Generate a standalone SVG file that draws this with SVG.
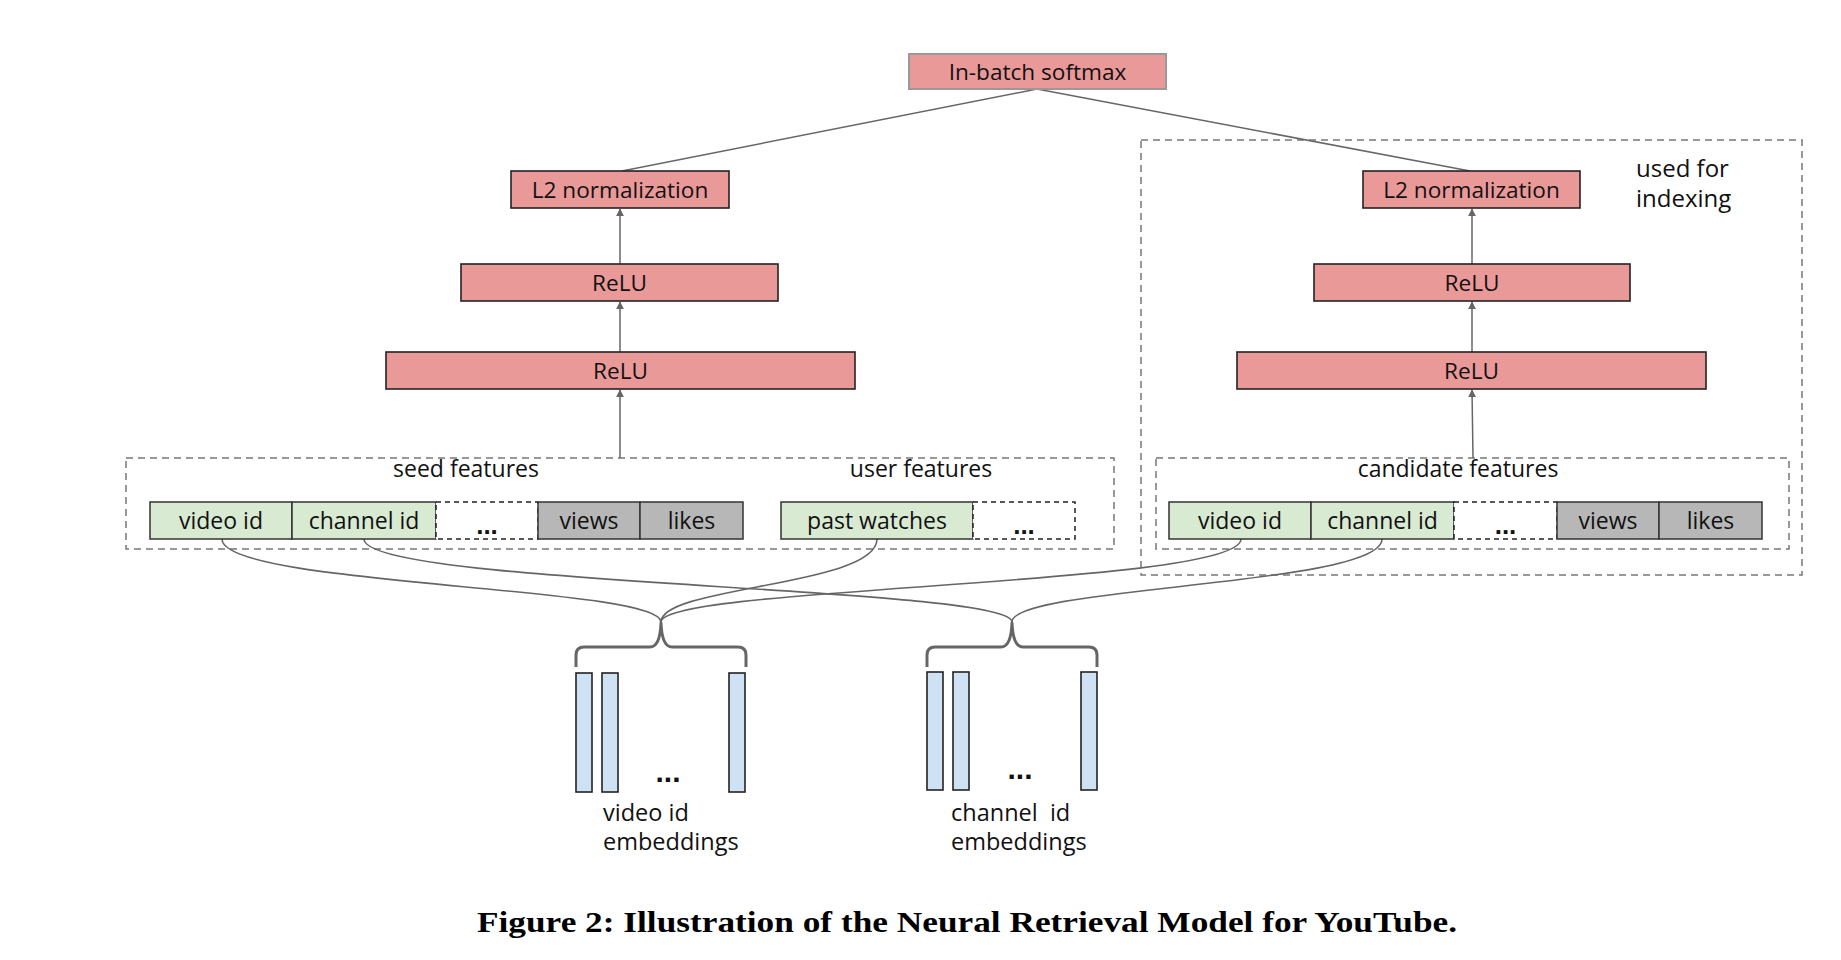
<svg xmlns="http://www.w3.org/2000/svg" width="1841" height="960" viewBox="0 0 1841 960">
<defs>
<marker id="arr" viewBox="0 0 10 10" refX="9" refY="5" markerWidth="8" markerHeight="8" markerUnits="userSpaceOnUse" orient="auto">
<path d="M0,0 L10,5 L0,10 z" fill="#666"/>
</marker>
<style>
.pink{fill:#ea9999;stroke:#222;stroke-width:1.6}
.top{fill:#ea9999;stroke:#999;stroke-width:2}
.green{fill:#d9ead3;stroke:#333;stroke-width:1.5}
.gray{fill:#b7b7b7;stroke:#333;stroke-width:1.5}
.dcell{fill:#fff;stroke:#222;stroke-width:1.5;stroke-dasharray:5,4}
.grp{fill:none;stroke:#777;stroke-width:1.5;stroke-dasharray:7,5}
.bar{fill:#cfe2f3;stroke:#222;stroke-width:1.6}
.t{font-family:"Open Sans","Noto Sans",sans-serif;font-size:22.6px;fill:#111}
.tc{text-anchor:middle}
.f{font-size:23px}
.e{font-size:23.5px}
.dots{font-family:"Liberation Sans",Arial,sans-serif;font-weight:bold;fill:#111;text-anchor:middle}
.ln{fill:none;stroke:#666;stroke-width:1.5}
.arrow{fill:none;stroke:#666;stroke-width:1.5;marker-end:url(#arr)}
.curve{fill:none;stroke:#666;stroke-width:1.6}
.brace{fill:none;stroke:#666;stroke-width:3;stroke-linejoin:round}
.cap{font-family:"Liberation Serif","Times New Roman",serif;font-weight:bold;font-size:30px;fill:#000;text-anchor:middle}
</style>
</defs>
<rect width="1841" height="960" fill="#fff"/>

<g id="groups">
<rect id="indexing-group" class="grp" x="1141" y="140" width="661" height="435"/>
<rect id="seed-user-group" class="grp" x="126" y="458" width="988" height="91"/>
<rect id="candidate-group" class="grp" x="1156" y="458" width="633" height="91"/>
<text class="t f tc" x="466" y="477">seed features</text>
<text class="t f tc" x="921" y="477">user features</text>
<text class="t f tc" x="1458" y="477">candidate features</text>
<text class="t" style="font-size:24px" x="1636" y="177">used for</text>
<text class="t" style="font-size:24px" x="1636" y="207">indexing</text>
</g>

<g id="connectors">
<line class="ln" x1="1037" y1="89" x2="622" y2="171"/>
<line class="ln" x1="1037" y1="89" x2="1470" y2="171"/>
<line class="arrow" x1="620" y1="264" x2="620" y2="209"/>
<line class="arrow" x1="620" y1="352" x2="620" y2="302"/>
<line class="arrow" x1="620" y1="458" x2="620" y2="390"/>
<line class="arrow" x1="1472" y1="264" x2="1472" y2="209"/>
<line class="arrow" x1="1472" y1="352" x2="1472" y2="302"/>
<line class="arrow" x1="1473" y1="458" x2="1472" y2="390"/>
<path class="curve" d="M222,539 C222,586 661,586 661,622"/>
<path class="curve" d="M877,539 C877,586 661,586 661,622"/>
<path class="curve" d="M1241,539 C1241,586 661,586 661,622"/>
<path class="curve" d="M364,539 C364,586 1012,586 1012,622"/>
<path class="curve" d="M1382,539 C1382,586 1012,586 1012,622"/>
</g>

<g id="in-batch-softmax">
<rect class="top" x="909" y="54" width="257" height="35"/>
<text class="t tc" x="1037.5" y="80">In-batch softmax</text>
</g>

<g id="left-l2">
<rect class="pink" x="511" y="171" width="218" height="37"/>
<text class="t tc" x="620" y="198">L2 normalization</text>
</g>
<g id="left-relu-2">
<rect class="pink" x="461" y="264" width="317" height="37"/>
<text class="t tc" x="619.5" y="291">ReLU</text>
</g>
<g id="left-relu-1">
<rect class="pink" x="386" y="352" width="469" height="37"/>
<text class="t tc" x="620.5" y="379">ReLU</text>
</g>

<g id="right-l2">
<rect class="pink" x="1363" y="171" width="217" height="37"/>
<text class="t tc" x="1471.5" y="198">L2 normalization</text>
</g>
<g id="right-relu-2">
<rect class="pink" x="1314" y="264" width="316" height="37"/>
<text class="t tc" x="1472" y="291">ReLU</text>
</g>
<g id="right-relu-1">
<rect class="pink" x="1237" y="352" width="469" height="37"/>
<text class="t tc" x="1471.5" y="379">ReLU</text>
</g>

<g id="seed-features">
<rect class="green" x="150" y="502" width="142" height="37"/>
<text class="t f tc" x="221" y="529">video id</text>
<rect class="green" x="292" y="502" width="144" height="37"/>
<text class="t f tc" x="364" y="529">channel id</text>
<rect class="dcell" x="436" y="502" width="102" height="37"/>
<text class="dots" style="font-size:26px" x="487" y="534">...</text>
<rect class="gray" x="538" y="502" width="102" height="37"/>
<text class="t f tc" x="589" y="529">views</text>
<rect class="gray" x="640" y="502" width="103" height="37"/>
<text class="t f tc" x="691.5" y="529">likes</text>
</g>

<g id="user-features">
<rect class="green" x="781" y="502" width="192" height="37"/>
<text class="t f tc" x="877" y="529">past watches</text>
<rect class="dcell" x="973" y="502" width="102" height="37"/>
<text class="dots" style="font-size:26px" x="1024" y="534">...</text>
</g>

<g id="candidate-features">
<rect class="green" x="1169" y="502" width="142" height="37"/>
<text class="t f tc" x="1240" y="529">video id</text>
<rect class="green" x="1311" y="502" width="143" height="37"/>
<text class="t f tc" x="1382.5" y="529">channel id</text>
<rect class="dcell" x="1454" y="502" width="103" height="37"/>
<text class="dots" style="font-size:26px" x="1505.5" y="534">...</text>
<rect class="gray" x="1557" y="502" width="102" height="37"/>
<text class="t f tc" x="1608" y="529">views</text>
<rect class="gray" x="1659" y="502" width="103" height="37"/>
<text class="t f tc" x="1710.5" y="529">likes</text>
</g>

<g id="video-id-embeddings">
<path class="brace" d="M576,667 V655 Q576,647 584,647 H650 Q660,647 661,623 Q662,647 672,647 H738 Q746,647 746,655 V667"/>
<rect class="bar" x="576" y="673" width="16" height="119"/>
<rect class="bar" x="602" y="673" width="16" height="119"/>
<rect class="bar" x="729" y="673" width="16" height="119"/>
<text class="dots" style="font-size:30px" x="668" y="782">...</text>
<text class="t e" x="603" y="821">video id</text>
<text class="t e" x="603" y="850">embeddings</text>
</g>

<g id="channel-id-embeddings">
<path class="brace" d="M927,667 V655 Q927,647 935,647 H1001 Q1011,647 1012,623 Q1013,647 1023,647 H1089 Q1097,647 1097,655 V667"/>
<rect class="bar" x="927" y="672" width="16" height="118"/>
<rect class="bar" x="953" y="672" width="16" height="118"/>
<rect class="bar" x="1081" y="672" width="16" height="118"/>
<text class="dots" style="font-size:30px" x="1020" y="779">...</text>
<text class="t e" x="951" y="821" style="white-space:pre">channel  id</text>
<text class="t e" x="951" y="850">embeddings</text>
</g>

<text id="caption" class="cap" x="967" y="932" textLength="980" lengthAdjust="spacingAndGlyphs">Figure 2: Illustration of the Neural Retrieval Model for YouTube.</text>
</svg>
